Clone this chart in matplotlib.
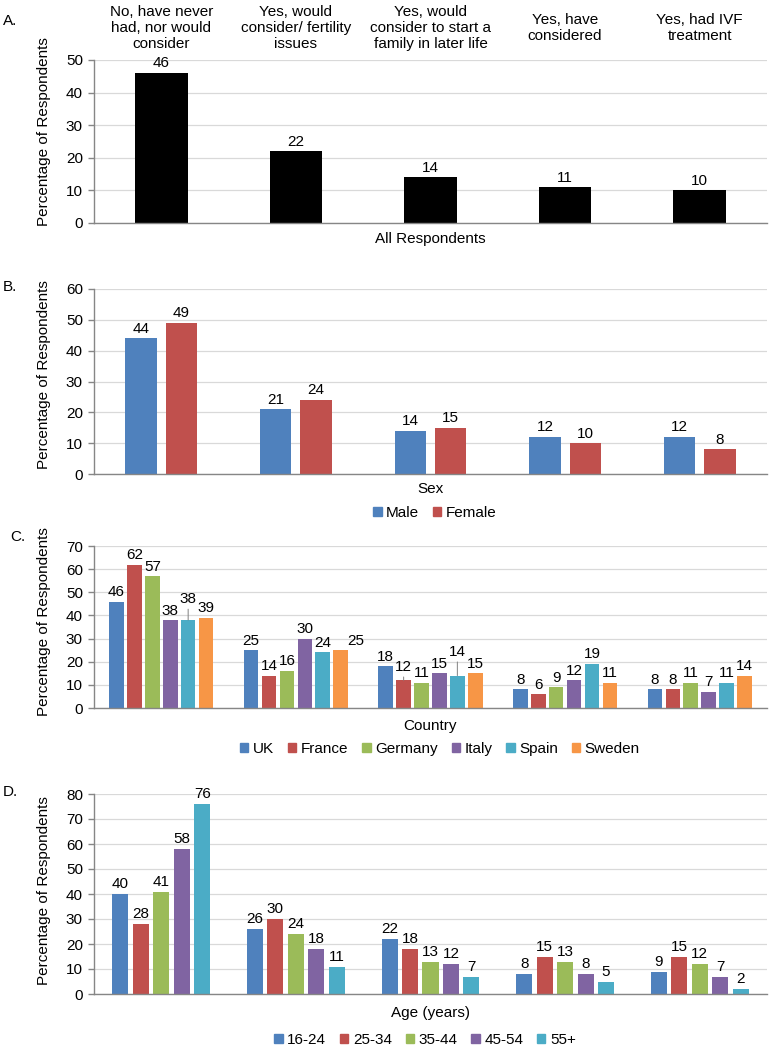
import matplotlib
matplotlib.use("Agg")
import matplotlib.pyplot as plt
from matplotlib.patches import Patch

plt.rcParams['font.family'] = ['Liberation Sans', 'DejaVu Sans']

# ---------------- data ----------------
answers = ["No, have never\nhad, nor would\nconsider",
           "Yes, would\nconsider/ fertility\nissues",
           "Yes, would\nconsider to start a\nfamily in later life",
           "Yes, have\nconsidered",
           "Yes, had IVF\ntreatment"]

all_resp = [46, 22, 14, 11, 10]

sex_labels = ["Male", "Female"]
male = [44, 21, 14, 12, 12]
female = [49, 24, 15, 10, 8]

country_labels = ["UK", "France", "Germany", "Italy", "Spain", "Sweden"]
uk = [46, 25, 18, 8, 8]
france = [62, 14, 12, 6, 8]
germany = [57, 16, 11, 9, 11]
italy = [38, 30, 15, 12, 7]
spain = [38, 24, 14, 19, 11]
sweden = [39, 25, 15, 11, 14]

age_labels = ["16-24", "25-34", "35-44", "45-54", "55+"]
age_16_24 = [40, 26, 22, 8, 9]
age_25_34 = [28, 30, 18, 15, 15]
age_35_44 = [41, 24, 13, 13, 12]
age_45_54 = [58, 18, 12, 8, 7]
age_55p = [76, 11, 7, 5, 2]

# ---------------- style ----------------
W, H = 769, 1047
BLUE, RED, GREEN, PURPLE, CYAN, ORANGE = "#4F81BD", "#C0504D", "#9BBB59", "#8064A2", "#4BACC6", "#F79646"
GRID = "#D9D9D9"
SPINE = "#868686"
FS = 11

fig = plt.figure(figsize=(W / 100, H / 100), dpi=100)


def add_axes(top_px, bottom_px, left_px=94, right_px=767):
    return fig.add_axes([left_px / W, 1 - bottom_px / H,
                         (right_px - left_px) / W, (bottom_px - top_px) / H])


def style_axes(ax, ymax):
    ax.set_xlim(-0.5, 4.5)
    ax.set_ylim(0, ymax)
    ax.set_yticks(range(0, ymax + 1, 10))
    ax.set_xticks([])
    ax.yaxis.grid(True, color=GRID, linewidth=0.9)
    ax.set_axisbelow(True)
    for s in ["top", "right"]:
        ax.spines[s].set_visible(False)
    for s in ["left", "bottom"]:
        ax.spines[s].set_color(SPINE)
        ax.spines[s].set_linewidth(1.0)
    ax.tick_params(axis="y", length=4, width=1.0, color=SPINE, pad=4, labelsize=FS)


def label_bar(ax, x, v, dx=0, dy=0, leader=False):
    ap = None
    if leader:
        ap = dict(arrowstyle="-", color="#808080", lw=0.7, shrinkA=0, shrinkB=0)
    ax.annotate(str(v), xy=(x, v), xytext=(dx, 4 + dy), textcoords="offset points",
                ha="center", va="baseline", fontsize=FS, arrowprops=ap)


def fig_text(x_px, y_px, s, **kw):
    fig.text(x_px / W, 1 - y_px / H, s, fontsize=FS, **kw)


cats = list(range(len(answers)))

# ---------------- Panel A ----------------
axA = add_axes(60, 223)
style_axes(axA, 50)
axA.bar(cats, all_resp, width=0.39, color="black")
for x, v in zip(cats, all_resp):
    label_bar(axA, x, v)
for x, t in zip(cats, answers):
    axA.annotate(t, xy=(x, 1), xycoords=("data", "axes fraction"), xytext=(0, 32 * 0.72),
                 textcoords="offset points", ha="center", va="center", fontsize=FS,
                 linespacing=1.2)
fig_text(430, 239, "All Respondents", ha="center", va="center")
fig_text(3, 21, "A.", ha="left", va="center")
fig_text(44, 132, "Percentage of Respondents", ha="center", va="center", rotation=90)

# ---------------- Panel B ----------------
axB = add_axes(289, 474)
style_axes(axB, 60)
slot, bw = 0.30, 0.234
for i, (vals, col) in enumerate(zip([male, female], [BLUE, RED])):
    off = (i - 0.5) * slot
    xs = [c + off for c in cats]
    axB.bar(xs, vals, width=bw, color=col)
    for x, v in zip(xs, vals):
        label_bar(axB, x, v)
fig_text(430, 489, "Sex", ha="center", va="center")
fig_text(3, 287, "B.", ha="left", va="center")
fig_text(44, 375, "Percentage of Respondents", ha="center", va="center", rotation=90)
fig.legend(handles=[Patch(color=c, label=l) for c, l in zip([BLUE, RED], sex_labels)],
           loc="center", bbox_to_anchor=(435 / W, 1 - 513 / H), ncol=2, frameon=False,
           fontsize=FS, handlelength=0.55, handleheight=0.55, handletextpad=0.3,
           columnspacing=0.9, borderpad=0)

# ---------------- Panel C ----------------
axC = add_axes(546, 708)
style_axes(axC, 70)
slot, bw = 0.133, 0.108
country_series = [uk, france, germany, italy, spain, sweden]
country_colors = [BLUE, RED, GREEN, PURPLE, CYAN, ORANGE]
# label placement tweaks (group, series) -> (dx pt, dy pt, leader)
tweaks = {(0, 4): (0, 8, True), (2, 1): (0, 2.5, True), (2, 4): (0, 10, True),
          (1, 5): (11, 0, False)}
for i, (vals, col) in enumerate(zip(country_series, country_colors)):
    off = (i - 2.5) * slot
    xs = [c + off for c in cats]
    axC.bar(xs, vals, width=bw, color=col)
    for g, (x, v) in enumerate(zip(xs, vals)):
        dx, dy, ld = tweaks.get((g, i), (0, 0, False))
        label_bar(axC, x, v, dx, dy, ld)
fig_text(430, 726, "Country", ha="center", va="center")
fig_text(10, 537, "C.", ha="left", va="center")
fig_text(44, 622, "Percentage of Respondents", ha="center", va="center", rotation=90)
fig.legend(handles=[Patch(color=c, label=l) for c, l in zip(country_colors, country_labels)],
           loc="center", bbox_to_anchor=(440 / W, 1 - 749 / H), ncol=6, frameon=False,
           fontsize=FS, handlelength=0.55, handleheight=0.55, handletextpad=0.3,
           columnspacing=0.9, borderpad=0)

# ---------------- Panel D ----------------
axD = add_axes(794, 994)
style_axes(axD, 80)
slot, bw = 0.152, 0.119
age_series = [age_16_24, age_25_34, age_35_44, age_45_54, age_55p]
age_colors = [BLUE, RED, GREEN, PURPLE, CYAN]
for i, (vals, col) in enumerate(zip(age_series, age_colors)):
    off = (i - 2) * slot
    xs = [c + off for c in cats]
    axD.bar(xs, vals, width=bw, color=col)
    for x, v in zip(xs, vals):
        label_bar(axD, x, v)
fig_text(430, 1013, "Age (years)", ha="center", va="center")
fig_text(3, 792, "D.", ha="left", va="center")
fig_text(44, 891, "Percentage of Respondents", ha="center", va="center", rotation=90)
fig.legend(handles=[Patch(color=c, label=l) for c, l in zip(age_colors, age_labels)],
           loc="center", bbox_to_anchor=(425 / W, 1 - 1040 / H), ncol=5, frameon=False,
           fontsize=FS, handlelength=0.55, handleheight=0.55, handletextpad=0.3,
           columnspacing=0.9, borderpad=0)

fig.savefig("out.png", dpi=100, facecolor="white")
